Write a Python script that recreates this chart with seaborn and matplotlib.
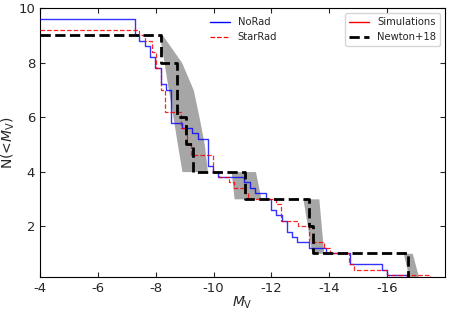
import pandas as pd
import seaborn as sns
from matplotlib import pyplot as plt
from matplotlib.lines import Line2D

# NoRad simulations (mean cumulative count, steps-post)
norad_mv = [-4.0, -7.27, -7.44, -7.62, -7.80, -7.98, -8.18, -8.35, -8.53, -8.91, -9.26, -9.45,
            -9.82, -9.99, -10.17, -11.06, -11.25, -11.44, -11.81, -11.99, -12.15, -12.38,
            -12.55, -12.72, -12.89, -13.29, -13.90, -14.73, -15.82, -16.01, -16.68, -18.0]
norad_n = [9.6, 9.0, 8.8, 8.6, 8.2, 7.8, 7.2, 7.0, 5.8, 5.6, 5.4, 5.2,
           4.2, 4.0, 3.8, 3.6, 3.4, 3.2, 3.0, 2.6, 2.4, 2.2,
           1.8, 1.6, 1.4, 1.2, 1.0, 0.6, 0.4, 0.2, 0.0, 0.0]

# StarRad simulations
starrad_mv = [-4.0, -7.44, -7.64, -7.86, -8.02, -8.19, -8.33, -8.87, -9.0, -9.1, -9.23, -9.99,
              -10.2, -10.54, -10.71, -11.1, -11.2, -12.15, -12.32, -12.93, -13.29, -13.81,
              -14.04, -14.67, -14.85, -15.99, -17.48, -18.0]
starrad_n = [9.2, 9.0, 8.8, 8.4, 7.8, 7.0, 6.2, 5.6, 5.4, 5.0, 4.6, 4.0,
             3.8, 3.6, 3.4, 3.2, 3.0, 2.8, 2.2, 2.0, 1.4, 1.2,
             1.0, 0.6, 0.4, 0.2, 0.0, 0.0]

# Newton+18 observed
obs_mv = [-4.0, -8.17, -8.74, -9.05, -9.28, -11.08, -13.29, -13.44, -16.71, -18.0]
obs_n = [9, 8, 6, 5, 4, 3, 2, 1, 0, 0]

# uncertainty bands around the observed steps
band1_n = [9, 8, 7, 6, 5, 4]
band1_lo = [-8.13, -8.29, -8.44, -8.60, -8.75, -8.91]
band1_hi = [-8.24, -8.90, -9.30, -9.50, -9.68, -9.79]
band2_n = [4, 3]
band2_lo = [-10.61, -10.71]
band2_hi = [-11.45, -11.64]
band3_n = [3, 1]
band3_lo = [-13.09, -13.40]
band3_hi = [-13.64, -13.81]
band4_n = [1, 0]
band4_lo = [-16.56, -16.78]
band4_hi = [-16.87, -17.12]

sns.set_style("ticks")
plt.rcParams['font.family'] = ['DejaVu Sans']

fig, ax = plt.subplots(figsize=(4.49, 3.13), dpi=100)
fig.subplots_adjust(left=0.089, right=0.991, top=0.974, bottom=0.115)

for bn, blo, bhi in [(band1_n, band1_lo, band1_hi), (band2_n, band2_lo, band2_hi),
                     (band3_n, band3_lo, band3_hi), (band4_n, band4_lo, band4_hi)]:
    ax.fill_betweenx(bn, blo, bhi, color='gray', alpha=0.7, lw=0, zorder=1)

norad = pd.DataFrame({"MV": norad_mv, "N": norad_n})
starrad = pd.DataFrame({"MV": starrad_mv, "N": starrad_n})
obs = pd.DataFrame({"MV": obs_mv, "N": obs_n})

sns.lineplot(data=norad, x="MV", y="N", ax=ax, color="blue", lw=1, alpha=0.8,
             drawstyle="steps-post", sort=False, estimator=None, zorder=3)
sns.lineplot(data=starrad, x="MV", y="N", ax=ax, color="red", lw=0.9, alpha=0.85,
             drawstyle="steps-post", sort=False, estimator=None, zorder=3)
sns.lineplot(data=obs, x="MV", y="N", ax=ax, color="black", lw=2,
             drawstyle="steps-post", sort=False, estimator=None, zorder=4)
ax.lines[-1].set_linestyle("--")
ax.lines[-2].set_linestyle("--")

ax.set_xlim(-4, -18)
ax.set_ylim(0.13, 10)
ax.set_xticks([-4, -6, -8, -10, -12, -14, -16])
ax.set_xticklabels(['-4', '-6', '-8', '-10', '-12', '-14', '-16'])
ax.set_yticks([2, 4, 6, 8, 10])
ax.tick_params(direction='in', top=True, right=True, labelsize=9.5, length=3.5, width=0.8)
for s in ax.spines.values():
    s.set_linewidth(0.8)
    s.set_color('black')

ax.set_xlabel(r'$M_{\rm V}$', fontsize=10, labelpad=0)
ax.set_ylabel(r'N(<$M_{\rm V}$)', fontsize=10, labelpad=1)

h1 = [Line2D([], [], color='blue', lw=1),
      Line2D([], [], color='red', lw=0.9, linestyle='--')]
leg1 = ax.legend(h1, ['NoRad', 'StarRad'], loc='upper left', bbox_to_anchor=(0.397, 1.0),
                 frameon=False, fontsize=7.2)
ax.add_artist(leg1)
h2 = [Line2D([], [], color='red', lw=1),
      Line2D([], [], color='black', lw=2, linestyle='--')]
ax.legend(h2, ['Simulations', 'Newton+18'], loc='upper right', fontsize=7.2)

fig.savefig('out.png', dpi=100)
